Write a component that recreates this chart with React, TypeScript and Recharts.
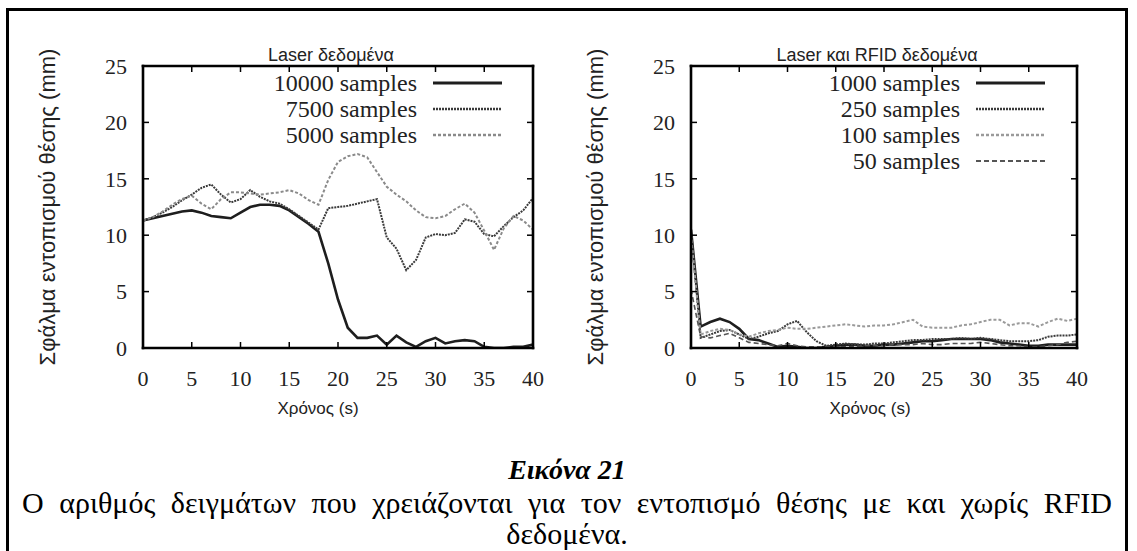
import React from 'react';
import { LineChart, Line, XAxis, YAxis, Legend } from 'recharts';

const TIME = [0, 1, 2, 3, 4, 5, 6, 7, 8, 9, 10, 11, 12, 13, 14, 15, 16, 17, 18, 19, 20, 21, 22, 23, 24, 25, 26, 27, 28, 29, 30, 31, 32, 33, 34, 35, 36, 37, 38, 39, 40];
const X_TICKS = [0, 5, 10, 15, 20, 25, 30, 35, 40];
const Y_TICKS = [0, 5, 10, 15, 20, 25];

// Left chart: Laser data
const LASER_10000 = [11.3, 11.5, 11.7, 11.9, 12.1, 12.2, 12.0, 11.7, 11.6, 11.5, 12.0, 12.5, 12.7, 12.7, 12.6, 12.2, 11.6, 11.0, 10.3, 7.5, 4.3, 1.8, 0.9, 0.9, 1.1, 0.3, 1.1, 0.5, 0.1, 0.6, 0.9, 0.4, 0.6, 0.7, 0.6, 0.1, 0.0, 0.0, 0.1, 0.1, 0.3];
const LASER_7500 = [11.3, 11.6, 12.0, 12.5, 13.1, 13.6, 14.2, 14.5, 13.6, 12.9, 13.2, 14.0, 13.4, 13.0, 12.8, 12.3, 11.7, 11.1, 10.5, 12.4, 12.5, 12.6, 12.8, 13.0, 13.2, 9.8, 8.8, 6.9, 7.8, 9.8, 10.1, 10.0, 10.2, 11.4, 11.2, 10.1, 9.9, 10.8, 11.6, 12.2, 13.3];
const LASER_5000 = [11.3, 11.6, 12.1, 12.7, 13.2, 13.5, 12.8, 12.3, 13.2, 13.8, 13.8, 13.7, 13.6, 13.7, 13.8, 14.0, 13.7, 13.1, 12.7, 14.9, 16.5, 17.0, 17.2, 16.9, 15.6, 14.3, 13.6, 13.0, 12.2, 11.6, 11.5, 11.7, 12.3, 12.8, 12.0, 10.4, 8.7, 10.6, 11.7, 11.3, 10.5];

// Right chart: Laser + RFID data
const RFID_1000 = [10.5, 1.9, 2.3, 2.6, 2.3, 1.7, 0.8, 0.7, 0.4, 0.1, 0.2, 0.1, 0.0, 0.0, 0.1, 0.2, 0.3, 0.3, 0.2, 0.2, 0.3, 0.3, 0.4, 0.5, 0.6, 0.6, 0.7, 0.8, 0.8, 0.8, 0.8, 0.7, 0.5, 0.4, 0.3, 0.2, 0.2, 0.3, 0.3, 0.3, 0.3];
const RFID_250 = [10.5, 0.9, 1.2, 1.5, 1.6, 1.2, 0.8, 1.0, 1.3, 1.5, 2.1, 2.4, 1.4, 0.6, 0.2, 0.3, 0.4, 0.3, 0.3, 0.4, 0.4, 0.5, 0.6, 0.7, 0.7, 0.8, 0.8, 0.8, 0.9, 0.8, 0.9, 0.8, 0.7, 0.6, 0.6, 0.6, 0.7, 1.0, 1.1, 1.1, 1.2];
const RFID_100 = [10.0, 1.2, 1.5, 1.7, 1.6, 1.2, 1.0, 1.3, 1.5, 1.6, 1.8, 1.7, 1.7, 1.8, 1.9, 2.0, 2.1, 2.0, 1.9, 2.0, 2.0, 2.1, 2.3, 2.5, 1.9, 1.8, 1.8, 1.8, 2.0, 2.1, 2.3, 2.5, 2.5, 2.0, 2.2, 2.2, 1.9, 2.3, 2.6, 2.4, 2.6];
const RFID_50 = [5.2, 1.0, 0.9, 1.1, 1.3, 0.9, 0.5, 0.4, 0.3, 0.2, 0.4, 0.2, 0.1, 0.1, 0.1, 0.1, 0.1, 0.1, 0.2, 0.2, 0.2, 0.3, 0.3, 0.3, 0.4, 0.3, 0.3, 0.4, 0.4, 0.4, 0.5, 0.4, 0.3, 0.2, 0.2, 0.1, 0.1, 0.2, 0.3, 0.5, 0.6];

const LEFT_NAMES = ['10000 samples', '7500 samples', '5000 samples'];
const RIGHT_NAMES = ['1000 samples', '250 samples', '100 samples', '50 samples'];

const LEFT_TITLE = 'Laser δεδομένα';
const RIGHT_TITLE = 'Laser και RFID δεδομένα';
const Y_LABEL = 'Σφάλμα εντοπισμού θέσης (mm)';
const X_LABEL = 'Χρόνος (s)';
const FIG_TITLE = 'Εικόνα 21';
const FIG_LINE1 = 'Ο αριθμός δειγμάτων που χρειάζονται για τον εντοπισμό θέσης με και χωρίς RFID';
const FIG_LINE2 = 'δεδομένα.';

const SERIF = '"Liberation Serif", "DejaVu Serif", "Times New Roman", serif';
const SANS = '"Liberation Sans", "DejaVu Sans", Arial, sans-serif';

type SeriesStyle = { key: string; name: string; values: number[]; stroke: string; width: number; dash?: string };

const LEFT_SERIES: SeriesStyle[] = [
  { key: 'a', name: LEFT_NAMES[0], values: LASER_10000, stroke: '#1e1e1e', width: 2.6 },
  { key: 'b', name: LEFT_NAMES[1], values: LASER_7500, stroke: '#3a3a3a', width: 2, dash: '2 1' },
  { key: 'c', name: LEFT_NAMES[2], values: LASER_5000, stroke: '#8a8a8a', width: 2, dash: '3 2' },
];
const RIGHT_SERIES: SeriesStyle[] = [
  { key: 'a', name: RIGHT_NAMES[0], values: RFID_1000, stroke: '#1e1e1e', width: 2.6 },
  { key: 'b', name: RIGHT_NAMES[1], values: RFID_250, stroke: '#3a3a3a', width: 2, dash: '2 1' },
  { key: 'c', name: RIGHT_NAMES[2], values: RFID_100, stroke: '#9a9a9a', width: 2, dash: '3 2' },
  { key: 'd', name: RIGHT_NAMES[3], values: RFID_50, stroke: '#555555', width: 1.6, dash: '5 3' },
];

function buildRows(series: SeriesStyle[]) {
  return TIME.map((t, i) => {
    const row: Record<string, number> = { t };
    series.forEach((s) => {
      row[s.key] = s.values[i];
    });
    return row;
  });
}

const makeLegend = (series: SeriesStyle[], textEnd: number, lineStart: number, lineEnd: number, rowGap: number) => () => (
  <svg width={lineEnd + 6} height={series.length * rowGap + 10} style={{ overflow: 'visible', display: 'block' }}>
    {series.map((s, i) => {
      const y = 13 + i * rowGap;
      return (
        <g key={s.key}>
          <text x={textEnd} y={y} textAnchor="end" dominantBaseline="central" fontFamily={SERIF} fontSize={24} fill="#222">
            {s.name}
          </text>
          <line x1={lineStart} x2={lineEnd} y1={y} y2={y} stroke={s.stroke} strokeWidth={s.width + 0.6} strokeDasharray={s.dash} />
        </g>
      );
    })}
  </svg>
);

const yLabelContent = (props: any) => {
  const vb = props.viewBox || {};
  const cx = vb.x + vb.width - 96;
  const cy = vb.y + vb.height / 2;
  return (
    <text x={cx} y={cy} transform={`rotate(-90 ${cx} ${cy})`} textAnchor="middle" dominantBaseline="central" fontFamily={SANS} fontSize={22} fill="#222">
      {Y_LABEL}
    </text>
  );
};

const xLabelContent = (shift: number) => (props: any) => {
  const vb = props.viewBox || {};
  const cx = vb.x + vb.width / 2 + shift;
  const cy = vb.y + 60;
  return (
    <text x={cx} y={cy} textAnchor="middle" dominantBaseline="central" fontFamily={SANS} fontSize={17} fill="#222">
      {X_LABEL}
    </text>
  );
};

const noTick = () => <g />;
const axisLineStyle = { stroke: '#000', strokeWidth: 2.6, strokeLinecap: 'square' as const };
const tickLineStyle = { stroke: '#000', strokeWidth: 1.5 };
const tickFont = { fontFamily: SERIF, fontSize: 22, fill: '#222' };

function Panel(props: { series: SeriesStyle[]; marginRight: number; legendLeft: number; xShift: number }) {
  const { series, marginRight, legendLeft, xShift } = props;
  const rows = buildRows(series);
  return (
    <LineChart width={560} height={430} data={rows} margin={{ top: 36, left: 83, right: marginRight, bottom: 42 }}>
      <XAxis xAxisId="b" dataKey="t" type="number" domain={[0, 40]} ticks={X_TICKS} interval={0} allowDataOverflow
        orientation="bottom" height={40} tickSize={-6} tickMargin={28}
        axisLine={axisLineStyle} tickLine={tickLineStyle} tick={tickFont} label={{ content: xLabelContent(xShift) }} />
      <XAxis xAxisId="top" dataKey="t" type="number" domain={[0, 40]} ticks={X_TICKS} interval={0} allowDataOverflow
        orientation="top" height={30} tickSize={-6} tickMargin={0}
        axisLine={axisLineStyle} tickLine={tickLineStyle} tick={noTick} />
      <YAxis yAxisId="l" type="number" domain={[0, 25]} ticks={Y_TICKS} interval={0} allowDataOverflow
        orientation="left" width={60} tickSize={-6} tickMargin={22}
        axisLine={axisLineStyle} tickLine={tickLineStyle} tick={tickFont} label={{ content: yLabelContent }} />
      <YAxis yAxisId="r" type="number" domain={[0, 25]} ticks={Y_TICKS} interval={0} allowDataOverflow
        orientation="right" width={10} tickSize={-6} tickMargin={0}
        axisLine={axisLineStyle} tickLine={tickLineStyle} tick={noTick} />
      <Legend layout="vertical" align="center" verticalAlign="middle"
        wrapperStyle={{ position: 'absolute', left: legendLeft, top: 70, width: 330, height: 120 }}
        content={makeLegend(series, 217, 233, 302, 26)} />
      {series.map((s) => (
        <Line key={s.key} xAxisId="b" yAxisId="l" type="linear" dataKey={s.key} name={s.name}
          stroke={s.stroke} strokeWidth={s.width} strokeDasharray={s.dash} dot={false} activeDot={false}
          isAnimationActive={false} legendType="line" />
      ))}
    </LineChart>
  );
}

export default function App() {
  return (
    <div style={{ position: 'fixed', left: 0, top: 0, width: 1137, height: 551, overflow: 'hidden', background: '#fff' }}>
      <div style={{ position: 'absolute', left: 6, top: 8, width: 1122, height: 600, border: '3px solid #000', boxSizing: 'border-box' }} />
      <div style={{ position: 'absolute', left: 331, top: 45, transform: 'translateX(-50%)', fontFamily: SANS, fontSize: 18, color: '#222', whiteSpace: 'nowrap' }}>
        {LEFT_TITLE}
      </div>
      <div style={{ position: 'absolute', left: 877, top: 45, transform: 'translateX(-50%)', fontFamily: SANS, fontSize: 18, color: '#222', whiteSpace: 'nowrap' }}>
        {RIGHT_TITLE}
      </div>
      <div style={{ position: 'absolute', left: 0, top: 0 }}>
        <Panel series={LEFT_SERIES} marginRight={17} legendLeft={200} xShift={-20} />
      </div>
      <div style={{ position: 'absolute', left: 548, top: 0 }}>
        <Panel series={RIGHT_SERIES} marginRight={21} legendLeft={195} xShift={-14} />
      </div>
      <div style={{ position: 'absolute', left: 22, top: 453, width: 1090, fontFamily: SERIF, color: '#000' }}>
        <div style={{ fontSize: 28, fontWeight: 'bold', fontStyle: 'italic', lineHeight: '34px', textAlign: 'center' }}>{FIG_TITLE}</div>
        <div style={{ fontSize: 30, lineHeight: '32px', textAlign: 'justify', textAlignLast: 'justify', whiteSpace: 'nowrap' }}>{FIG_LINE1}</div>
        <div style={{ fontSize: 30, lineHeight: '30px', textAlign: 'center' }}>{FIG_LINE2}</div>
      </div>
    </div>
  );
}
